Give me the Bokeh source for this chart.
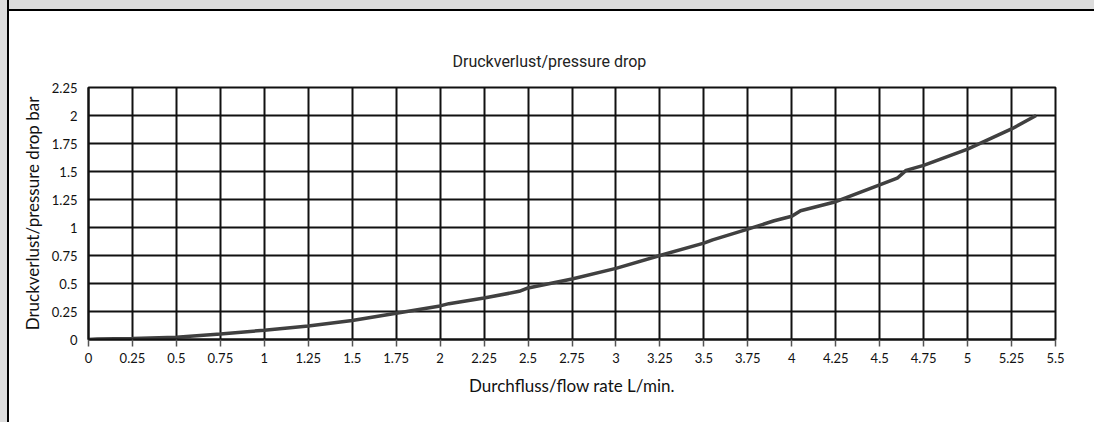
from bokeh.plotting import figure
from bokeh.models import FixedTicker, Range1d
from bokeh.embed import file_html
from bokeh.resources import INLINE

# ---- data ----
flow = [0, 0.05, 0.25, 0.5, 0.75, 1.0, 1.25, 1.5, 1.75, 2.0, 2.05, 2.25, 2.45, 2.5,
        2.75, 3.0, 3.25, 3.5, 3.55, 3.75, 3.9, 4.0, 4.05, 4.25, 4.5, 4.6, 4.65,
        4.75, 5.0, 5.25, 5.39]
drop = [0, 0.005, 0.01, 0.02, 0.05, 0.083, 0.12, 0.17, 0.235, 0.3, 0.32, 0.37, 0.43, 0.46,
        0.54, 0.635, 0.75, 0.86, 0.89, 0.985, 1.06, 1.1, 1.15, 1.23, 1.38, 1.44, 1.51,
        1.555, 1.70, 1.88, 2.0]
x_ticks = [0, 0.25, 0.5, 0.75, 1, 1.25, 1.5, 1.75, 2, 2.25, 2.5, 2.75, 3, 3.25, 3.5,
           3.75, 4, 4.25, 4.5, 4.75, 5, 5.25, 5.5]
x_tick_labels = ["0", "0.25", "0.5", "0.75", "1", "1.25", "1.5", "1.75", "2", "2.25",
                 "2.5", "2.75", "3", "3.25", "3.5", "3.75", "4", "4.25", "4.5", "4.75",
                 "5", "5.25", "5.5"]
y_ticks = [0, 0.25, 0.5, 0.75, 1, 1.25, 1.5, 1.75, 2, 2.25]
y_tick_labels = ["0", "0.25", "0.5", "0.75", "1", "1.25", "1.5", "1.75", "2", "2.25"]
title_text = "Druckverlust/pressure drop"
x_label = "Durchfluss/flow rate L/min."
y_label = "Druckverlust/pressure drop bar"

p = figure(width=1094, height=422, output_backend="svg", toolbar_location=None,
           x_range=Range1d(0, 5.5), y_range=Range1d(0, 2.25),
           min_border_left=88, min_border_right=39, min_border_top=87,
           min_border_bottom=83, title=title_text)

p.border_fill_alpha = 0
p.background_fill_color = "white"
p.outline_line_color = "#111111"
p.outline_line_width = 2

p.title.align = "left"
p.title.offset = 364
p.title.standoff = 33
p.title.text_font = "Roboto"
p.title.text_font_size = "16px"
p.title.text_font_style = "normal"
p.title.text_color = "#222222"

p.line(flow, drop, line_color="#404040", line_width=3.5)

for ax in (p.xaxis[0], p.yaxis[0]):
    ax.axis_line_color = "#111111"
    ax.axis_line_width = 2
    ax.major_label_text_font = "Lato"
    ax.major_label_text_font_size = "13px"
    ax.major_label_text_color = "#111111"
    ax.axis_label_text_font = "Lato"
    ax.axis_label_text_font_size = "17px"
    ax.axis_label_text_font_style = "normal"
    ax.axis_label_text_color = "#111111"
    ax.minor_tick_line_color = None

p.xaxis[0].ticker = FixedTicker(ticks=x_ticks)
p.xaxis[0].major_label_overrides = {t: l for t, l in zip(x_ticks, x_tick_labels)}
p.xaxis[0].major_tick_out = 7
p.xaxis[0].major_tick_in = 0
p.xaxis[0].major_tick_line_color = "#555555"
p.xaxis[0].major_tick_line_width = 1.5
p.xaxis[0].major_label_standoff = 6
p.xaxis[0].axis_label = x_label
p.xaxis[0].axis_label_standoff = 9

p.yaxis[0].ticker = FixedTicker(ticks=y_ticks)
p.yaxis[0].major_label_overrides = {t: l for t, l in zip(y_ticks, y_tick_labels)}
p.yaxis[0].major_tick_out = 0
p.yaxis[0].major_tick_in = 0
p.yaxis[0].major_label_standoff = 11
p.yaxis[0].axis_label = y_label
p.yaxis[0].axis_label_standoff = 6

p.xgrid.ticker = FixedTicker(ticks=x_ticks)
p.ygrid.ticker = FixedTicker(ticks=y_ticks)
for g in (p.xgrid[0], p.ygrid[0]):
    g.grid_line_color = "#111111"
    g.grid_line_width = 2

html = file_html(p, INLINE)
css = ("<style>html{background-color:#ffffff;"
       "background-image:linear-gradient(to right,#dcdcdc 7px,#000 7px,#000 9px,transparent 9px),"
       "linear-gradient(to bottom,#dcdcdc 9px,#000 9px,#000 11px,transparent 11px);"
       "background-repeat:no-repeat;background-size:100% 100%;min-height:100%;}"
       "body{background:transparent;}</style></head>")
html = html.replace("</head>", css, 1)
open("out.html", "w").write(html)
